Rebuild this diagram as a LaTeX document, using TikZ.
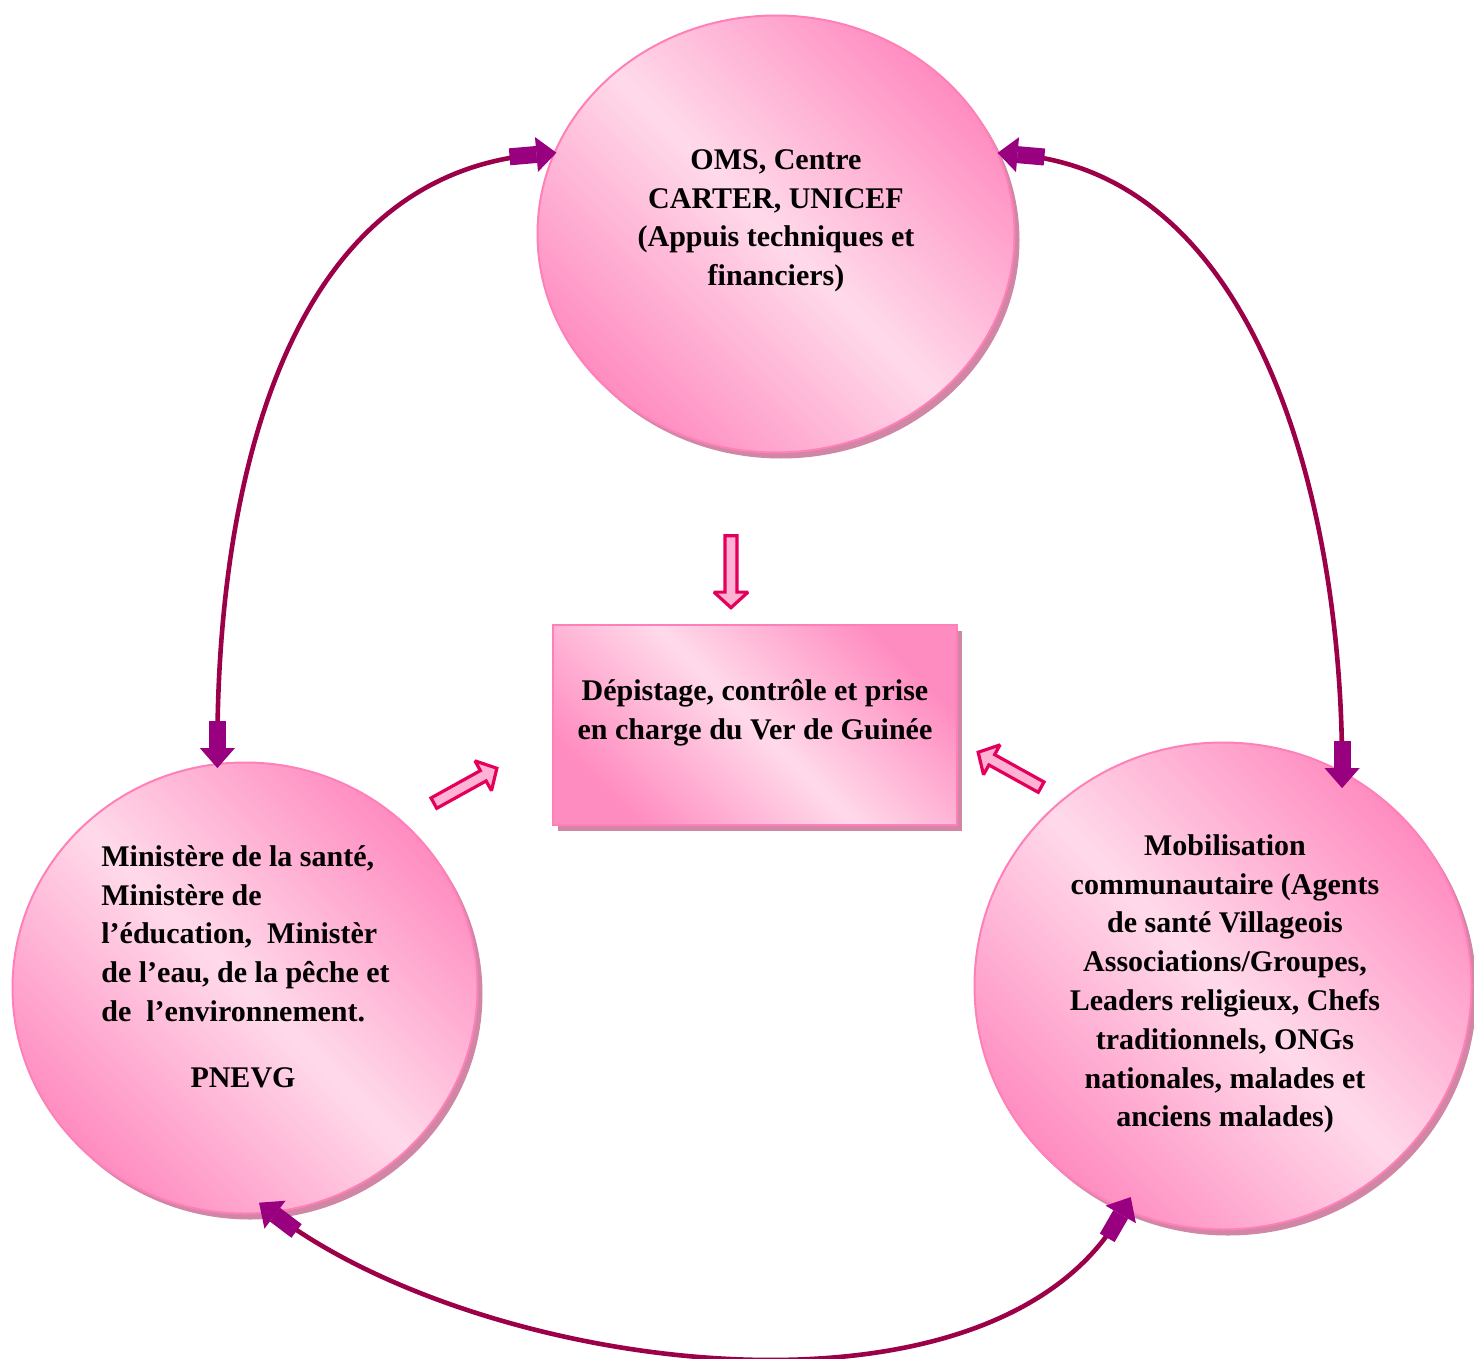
\documentclass[tikz,border=0pt]{standalone}
\usepackage{fontspec}
\setmainfont{Liberation Serif}
\usetikzlibrary{
  arrows.meta,
  shapes.geometric,
  shapes.arrows,
  shadows
}
\definecolor{pinklight}{RGB}{255,218,234}
\definecolor{pinkdark}{RGB}{255,140,192}
\definecolor{pinkline}{RGB}{255,128,184}
\definecolor{pinkshadow}{RGB}{208,134,164}
\definecolor{linkred}{RGB}{155,0,72}
\definecolor{tippurple}{RGB}{153,0,128}
\definecolor{hollowred}{RGB}{228,0,90}
\definecolor{hollowfill}{RGB}{255,178,212}
\tikzset{
  every node/.style={font=\bfseries\fontsize{15}{19.4}\selectfont},
  pinkfill/.style={draw=pinkline, line width=1pt,
    top color=pinkdark, bottom color=pinkdark, middle color=pinklight,
    shading angle=-45,
    drop shadow={shadow xshift=2.5pt, shadow yshift=-3pt, fill=pinkshadow, opacity=1}},
  bubble/.style={ellipse, pinkfill},
  panel/.style={rectangle, pinkfill},
  txt/.style={align=center, inner sep=0pt},
  link/.style={draw=linkred, line width=2.3pt,
    {Triangle[length=10pt, width=17.5pt, sep=-0.5pt, line width=0pt, color=tippurple, fill=tippurple]
     Square[length=13.5pt, width=8.5pt, sep=0pt, line width=0pt, color=tippurple, fill=tippurple]}-%
    {Square[length=13.5pt, width=8.5pt, sep=0pt, line width=0pt, color=tippurple, fill=tippurple]
     Triangle[length=10pt, width=17.5pt, sep=-0.5pt, line width=0pt, color=tippurple, fill=tippurple]}},
  hollow/.style={single arrow, draw=hollowred, fill=hollowfill, line width=1.6pt,
    miter limit=2, inner sep=0pt, minimum height=36pt, minimum width=17pt,
    single arrow head extend=1.5pt, single arrow tip angle=95}
}

\begin{document}
\begin{tikzpicture}[x=0.5pt, y=0.5pt]
    \useasboundingbox (0,0) rectangle (1474,-1359);
    % the three partners and the task
    \node[bubble, minimum width=238.5pt, minimum height=218.5pt] (oms) at (776,-234) {};
    \node[bubble, minimum width=232.5pt, minimum height=225.5pt] (mini) at (245,-988) {};
    \node[bubble, minimum width=248.5pt, minimum height=243.5pt] (mob) at (1223,-986) {};
    \node[panel, minimum width=202pt, minimum height=100pt] (task) at (755,-725) {};

    \node[txt, anchor=north] (omstext) at (776,-149)
      {OMS, Centre\\CARTER, UNICEF\\(Appuis techniques et\\financiers)};
    \node[txt, align=left, anchor=north west] (minitext) at (101,-845)
      {Ministère de la santé,\\Ministère de\\l’éducation,~ Ministèr\\de l’eau, de la pêche et\\de~ l’environnement.};
    \node[txt, anchor=base] (pnevg) at (243,-1087) {PNEVG};
    \node[txt, anchor=north] (mobtext) at (1225,-834)
      {Mobilisation\\communautaire (Agents\\de santé Villageois\\Associations/Groupes,\\Leaders religieux, Chefs\\traditionnels, ONGs\\nationales, malades et\\anciens malades)};
    \node[txt, anchor=north] (tasktext) at (755,-679)
      {Dépistage, contrôle et prise\\en charge du Ver de Guinée};

    % hollow arrows towards the task
    \node[hollow, rotate=-90] (down) at (731,-569) {};
    \node[hollow, rotate=29] (fromleft) at (463,-787) {};
    \node[hollow, rotate=151] (fromright) at (1012,-771) {};

    % links between partners
    \draw[link, shorten <=-1pt, shorten >=-2pt] (oms.160) to[out=185, in=90, looseness=1.0] (mini.97);
    \draw[link, shorten <=0pt, shorten >=-8pt] (oms.20) to[out=-5, in=90, looseness=0.95] (mob.61);
    \draw[link, shorten <=-8pt, shorten >=-7pt] (mini.-83) to[out=-37, in=-120, looseness=0.8] (mob.-114);
\end{tikzpicture}
\end{document}
